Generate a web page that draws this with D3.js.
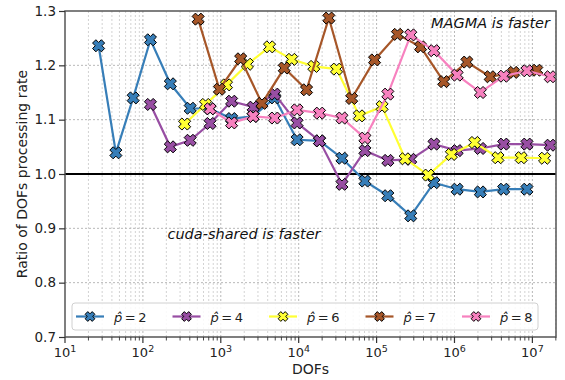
<!DOCTYPE html>
<html>
<head>
<meta charset="utf-8" />
<script src="https://d3js.org/d3.v7.min.js"></script>
<style>
  body { margin: 0; background: #fff; }
  text { font-family: "DejaVu Sans", sans-serif; }
</style>
</head>
<body>
<svg id="chart" width="565" height="380"></svg>
<script>
// series data
var labels = ["2", "4", "6", "7", "8"];
var colors = ["#377eb8", "#984ea3", "#ffff33", "#a65628", "#f781bf"];

var dofsP2 = [27, 45, 75, 125, 225, 405, 729, 1377, 2601, 4913, 9537, 18513, 35937, 70785, 139425, 274625, 545025, 1081665, 2146689, 4276737, 8520321];
var ratioP2 = [1.236, 1.039, 1.140, 1.247, 1.166, 1.121, 1.120, 1.102, 1.106, 1.140, 1.063, 1.061, 1.029, 0.987, 0.960, 0.923, 0.984, 0.972, 0.967, 0.972, 0.972];

var dofsP4 = [125, 225, 405, 729, 1377, 2601, 4913, 9537, 18513, 35937, 70785, 139425, 274625, 545025, 1081665, 2146689, 4276737, 8520321, 16974593];
var ratioP4 = [1.128, 1.050, 1.062, 1.093, 1.134, 1.123, 1.147, 1.094, 1.061, 0.981, 1.043, 1.025, 1.027, 1.055, 1.043, 1.047, 1.055, 1.055, 1.053];

var dofsP6 = [343, 637, 1183, 2197, 4225, 8125, 15625, 30625, 60025, 117649, 232897, 461041, 912673, 1815937, 3613153, 7189057, 14340865];
var ratioP6 = [1.092, 1.128, 1.164, 1.202, 1.234, 1.211, 1.198, 1.193, 1.107, 1.124, 1.028, 0.998, 1.036, 1.058, 1.030, 1.030, 1.029];

var dofsP7 = [512, 960, 1800, 3375, 6525, 12615, 24389, 47937, 94221, 185193, 367137, 727833, 1442897, 2873025, 5720625, 11390625];
var ratioP7 = [1.285, 1.156, 1.212, 1.130, 1.195, 1.155, 1.287, 1.139, 1.210, 1.257, 1.234, 1.170, 1.206, 1.179, 1.187, 1.191];

var dofsP8 = [729, 1377, 2601, 4913, 9537, 18513, 35937, 70785, 139425, 274625, 545025, 1081665, 2146689, 4276737, 8520321, 16974593];
var ratioP8 = [1.120, 1.094, 1.106, 1.103, 1.118, 1.112, 1.103, 1.066, 1.147, 1.256, 1.227, 1.182, 1.150, 1.180, 1.190, 1.179];

var yTicks = [0.7, 0.8, 0.9, 1.0, 1.1, 1.2, 1.3];
var xTicks = [10, 100, 1000, 10000, 100000, 1000000, 10000000];

var series = [
  { dofs: dofsP2, ratio: ratioP2 },
  { dofs: dofsP4, ratio: ratioP4 },
  { dofs: dofsP6, ratio: ratioP6 },
  { dofs: dofsP7, ratio: ratioP7 },
  { dofs: dofsP8, ratio: ratioP8 }
];

var svg = d3.select("#chart");
var margin = { left: 65, right: 9, top: 11, bottom: 43 };
var W = 565, H = 380;

var x = d3.scaleLog().domain([10, 2.01e7]).range([margin.left, W - margin.right]);
var y = d3.scaleLinear().domain([0.7, 1.3]).range([H - margin.bottom, margin.top]);

var x0 = margin.left, x1 = W - margin.right, y0 = H - margin.bottom, y1 = margin.top;

// minor x positions
var minor = [];
for (var e = 1; e <= 7; e++) {
  for (var k = 2; k <= 9; k++) {
    var v = k * Math.pow(10, e);
    if (v < 2.01e7) minor.push(v);
  }
}

// grid
var grid = svg.append("g");
grid.selectAll(".mg").data(minor).enter().append("line")
  .attr("x1", d => x(d)).attr("x2", d => x(d))
  .attr("y1", y0).attr("y2", y1)
  .attr("stroke", "#c8c8c8").attr("stroke-width", 0.8)
  .attr("stroke-dasharray", "2,2");
grid.selectAll(".Mg").data(xTicks.slice(1)).enter().append("line")
  .attr("x1", d => x(d)).attr("x2", d => x(d))
  .attr("y1", y0).attr("y2", y1)
  .attr("stroke", "#b0b0b0").attr("stroke-width", 0.9)
  .attr("stroke-dasharray", "2,2");
grid.selectAll(".yg").data(yTicks.slice(1, -1)).enter().append("line")
  .attr("x1", x0).attr("x2", x1)
  .attr("y1", d => y(d)).attr("y2", d => y(d))
  .attr("stroke", "#b0b0b0").attr("stroke-width", 0.9)
  .attr("stroke-dasharray", "2,2");

// reference line at 1.0
svg.append("line")
  .attr("x1", x0).attr("x2", x1)
  .attr("y1", y(1)).attr("y2", y(1))
  .attr("stroke", "#000").attr("stroke-width", 2);

// X-shaped marker path
function xMarker(s) {
  var a = 1, b = 0.38;
  var pts = [[-b, -a], [b, -a], [b, -b], [a, -b], [a, b], [b, b], [b, a], [-b, a], [-b, b], [-a, b], [-a, -b], [-b, -b]];
  var c = Math.SQRT1_2;
  return "M" + pts.map(p => [(p[0] - p[1]) * c * s, (p[0] + p[1]) * c * s].join(",")).join("L") + "Z";
}
var mPath = xMarker(6.2);
var legPath = xMarker(5);

var line = d3.line().x(d => x(d[0])).y(d => y(d[1]));

series.forEach(function (s, i) {
  var pts = s.dofs.map((d, j) => [d, s.ratio[j]]);
  var g = svg.append("g");
  g.append("path").datum(pts)
    .attr("d", line)
    .attr("fill", "none")
    .attr("stroke", colors[i])
    .attr("stroke-width", 2.2);
  g.selectAll("path.m").data(pts).enter().append("path")
    .attr("class", "m")
    .attr("d", mPath)
    .attr("transform", d => "translate(" + x(d[0]) + "," + y(d[1]) + ")")
    .attr("fill", colors[i])
    .attr("stroke", "#000")
    .attr("stroke-width", 1);
});

// spines
svg.append("rect")
  .attr("x", x0).attr("y", y1)
  .attr("width", x1 - x0).attr("height", y0 - y1)
  .attr("fill", "none").attr("stroke", "#555").attr("stroke-width", 1.5);

// y axis
var yAxis = svg.append("g")
  .attr("transform", "translate(" + x0 + ",0)")
  .call(d3.axisLeft(y).tickValues(yTicks).tickFormat(d3.format(".1f")).tickSize(6).tickPadding(3));
yAxis.select(".domain").remove();
yAxis.selectAll("line").attr("stroke", "#333").attr("stroke-width", 1.2);
yAxis.selectAll("text").attr("font-size", 13.5).attr("fill", "#222")
  .style("font-family", "DejaVu Sans");

// x axis: major + minor ticks
var xAxis = svg.append("g").attr("transform", "translate(0," + y0 + ")");
xAxis.selectAll(".mt").data(minor).enter().append("line")
  .attr("x1", d => x(d)).attr("x2", d => x(d))
  .attr("y1", 0).attr("y2", 3.5)
  .attr("stroke", "#333").attr("stroke-width", 0.9);
xAxis.selectAll(".Mt").data(xTicks).enter().append("line")
  .attr("x1", d => x(d)).attr("x2", d => x(d))
  .attr("y1", 0).attr("y2", 6)
  .attr("stroke", "#333").attr("stroke-width", 1.2);
var xl = xAxis.selectAll(".xl").data(xTicks).enter().append("text")
  .attr("x", d => x(d)).attr("y", 20)
  .attr("text-anchor", "middle")
  .attr("font-size", 13).attr("fill", "#222");
xl.append("tspan").text("10");
xl.append("tspan").attr("dy", -5.5).attr("font-size", 9.5)
  .text(d => String(Math.round(Math.log10(d))));

// axis titles
svg.append("text")
  .attr("x", (x0 + x1) / 2).attr("y", 374)
  .attr("text-anchor", "middle").attr("font-size", 14).attr("fill", "#222")
  .text("DOFs");
svg.append("text")
  .attr("transform", "translate(27," + ((y0 + y1) / 2) + ") rotate(-90)")
  .attr("text-anchor", "middle").attr("font-size", 14).attr("fill", "#222")
  .text("Ratio of DOFs processing rate");

// annotations
svg.append("text")
  .attr("x", 550).attr("y", 28)
  .attr("text-anchor", "end").attr("font-size", 14.5).attr("font-style", "italic")
  .attr("fill", "#111")
  .text("MAGMA is faster");
svg.append("text")
  .attr("x", 244).attr("y", 239)
  .attr("text-anchor", "middle").attr("font-size", 14.5).attr("font-style", "italic")
  .attr("fill", "#111")
  .text("cuda-shared is faster");

// legend
var lg = svg.append("g");
lg.append("rect")
  .attr("x", 72).attr("y", 303).attr("width", 466).attr("height", 27)
  .attr("rx", 3).attr("fill", "#fff").attr("fill-opacity", 0.85)
  .attr("stroke", "#d0d0d0").attr("stroke-width", 1);
labels.forEach(function (lab, i) {
  var lx = 76 + i * 96.5, ly = 316.5;
  lg.append("line")
    .attr("x1", lx).attr("x2", lx + 28).attr("y1", ly).attr("y2", ly)
    .attr("stroke", colors[i]).attr("stroke-width", 2.2);
  lg.append("path").attr("d", legPath)
    .attr("transform", "translate(" + (lx + 14) + "," + ly + ")")
    .attr("fill", colors[i]).attr("stroke", "#000").attr("stroke-width", 1);
  var t = lg.append("text")
    .attr("x", lx + 38).attr("y", ly + 5)
    .attr("font-size", 13).attr("fill", "#222");
  t.append("tspan").attr("font-style", "italic").text("p\u0302");
  t.append("tspan").text("\u2009=\u2009" + lab);
});
</script>
</body>
</html>
